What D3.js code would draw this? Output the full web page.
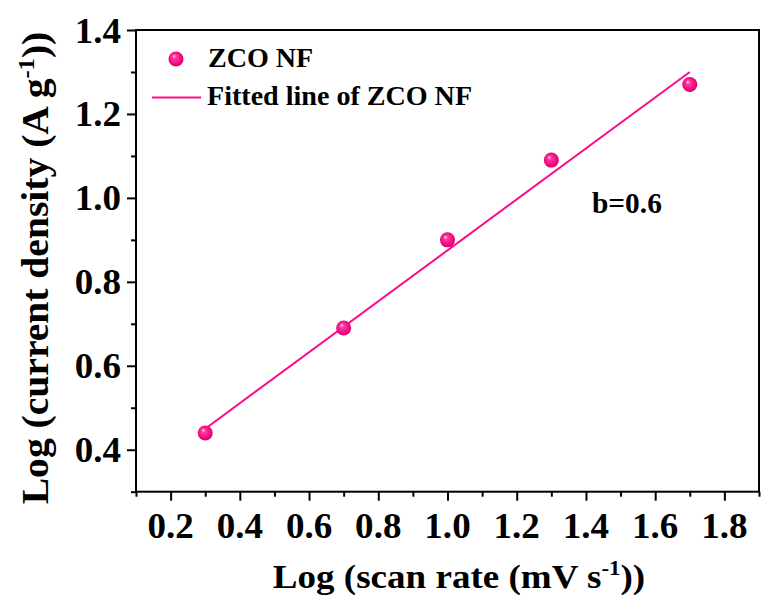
<!DOCTYPE html>
<html>
<head>
<meta charset="utf-8">
<script src="https://cdn.jsdelivr.net/npm/d3@7"></script>
<style>
body { margin: 0; background: #fff; }
text { font-family: "Liberation Serif", "Times New Roman", serif; font-weight: bold; fill: #000; }
</style>
</head>
<body>
<script>
// log of scan rate vs log of current density
var scanLog = [0.3, 0.7, 1.0, 1.3, 1.7];
var currentLog = [0.44, 0.69, 0.90, 1.09, 1.27];
// fitted line end points
var fitX = [0.3, 1.7];
var fitY = [0.45, 1.30];

var xTicks = [0.2, 0.4, 0.6, 0.8, 1.0, 1.2, 1.4, 1.6, 1.8];
var xMinor = [0.1, 0.3, 0.5, 0.7, 0.9, 1.1, 1.3, 1.5, 1.7, 1.9];
var yTicks = [0.4, 0.6, 0.8, 1.0, 1.2, 1.4];
var yMinor = [0.3, 0.5, 0.7, 0.9, 1.1, 1.3];

var seriesName = 'ZCO NF';
var fitName = 'Fitted line of ZCO NF';
var slopeLabel = 'b=0.6';

var width = 761, height = 599;
var plotL = 136, plotR = 759, plotT = 30, plotB = 491.7;
var pink = '#ff0a88';

var svg = d3.select('body').append('svg')
	.attr('width', width).attr('height', height);

var defs = svg.append('defs');
var grad = defs.append('radialGradient').attr('id', 'ball')
	.attr('cx', '50%').attr('cy', '50%').attr('r', '55%')
	.attr('fx', '35%').attr('fy', '30%');
grad.append('stop').attr('offset', '0%').attr('stop-color', '#ffe0f0');
grad.append('stop').attr('offset', '25%').attr('stop-color', '#ff3a9e');
grad.append('stop').attr('offset', '75%').attr('stop-color', '#f2067f');
grad.append('stop').attr('offset', '100%').attr('stop-color', '#c4005c');

var x = d3.scaleLinear().domain([0.1, 1.9]).range([plotL, plotR]);
var y = d3.scaleLinear().domain([0.3, 1.4]).range([plotB, plotT]);

// ticks, outward, no labels (labels drawn below)
function tickGroup(axis, tr) {
	var g = svg.append('g').attr('transform', tr).call(axis);
	g.select('.domain').remove();
	g.selectAll('line').attr('stroke', '#000').attr('stroke-width', 2);
	g.selectAll('text').remove();
	return g;
}
tickGroup(d3.axisBottom(x).tickValues(xTicks).tickSize(9).tickFormat(''), 'translate(0,' + plotB + ')');
tickGroup(d3.axisBottom(x).tickValues(xMinor).tickSize(5).tickFormat(''), 'translate(0,' + plotB + ')');
tickGroup(d3.axisLeft(y).tickValues(yTicks).tickSize(9).tickFormat(''), 'translate(' + plotL + ',0)');
tickGroup(d3.axisLeft(y).tickValues(yMinor).tickSize(5).tickFormat(''), 'translate(' + plotL + ',0)');

svg.append('rect')
	.attr('x', plotL).attr('y', plotT)
	.attr('width', plotR - plotL).attr('height', plotB - plotT)
	.attr('fill', 'none').attr('stroke', '#000').attr('stroke-width', 2);

// tick labels
svg.selectAll('.xlab').data(xTicks).enter().append('text')
	.attr('class', 'xlab')
	.attr('text-anchor', 'middle')
	.attr('font-size', 36)
	.attr('transform', function (d) { return 'translate(' + x(d) + ',538) scale(1.03,1)'; })
	.text(function (d) { return d.toFixed(1); });

svg.selectAll('.ylab').data(yTicks).enter().append('text')
	.attr('class', 'ylab')
	.attr('text-anchor', 'end')
	.attr('font-size', 36)
	.attr('transform', function (d) { return 'translate(121,' + (y(d) + 12.5) + ') scale(1.03,1)'; })
	.text(function (d) { return d.toFixed(1); });

// axis titles
var xt = svg.append('text')
	.attr('text-anchor', 'middle')
	.attr('font-size', 34)
	.attr('transform', 'translate(459,588) scale(1.09,1)');
xt.append('tspan').text('Log (scan rate (mV s');
xt.append('tspan').attr('font-size', 21).attr('dy', -13).text('-1');
xt.append('tspan').attr('dy', 13).text('))');

var yt = svg.append('text')
	.attr('text-anchor', 'middle')
	.attr('font-size', 37)
	.attr('transform', 'translate(48,268) rotate(-90) scale(1.07,1)');
yt.append('tspan').text('Log (current density (A g');
yt.append('tspan').attr('font-size', 23).attr('dy', -14).text('-1');
yt.append('tspan').attr('dy', 14).text('))');

// fitted line
var line = d3.line()
	.x(function (d) { return x(d[0]); })
	.y(function (d) { return y(d[1]); });
svg.append('path')
	.datum(d3.zip(fitX, fitY))
	.attr('d', line)
	.attr('fill', 'none')
	.attr('stroke', pink)
	.attr('stroke-width', 2);

// data points
svg.selectAll('.pt').data(d3.zip(scanLog, currentLog)).enter().append('circle')
	.attr('class', 'pt')
	.attr('cx', function (d) { return x(d[0]); })
	.attr('cy', function (d) { return y(d[1]); })
	.attr('r', 7.5)
	.attr('fill', 'url(#ball)');

// legend
svg.append('circle').attr('cx', 176).attr('cy', 59).attr('r', 7.5).attr('fill', 'url(#ball)');
svg.append('text').attr('font-size', 27)
	.attr('transform', 'translate(208,67) scale(1.04,1)')
	.text(seriesName);
svg.append('line')
	.attr('x1', 152).attr('x2', 201).attr('y1', 97.5).attr('y2', 97.5)
	.attr('stroke', pink).attr('stroke-width', 2);
svg.append('text').attr('font-size', 27)
	.attr('transform', 'translate(207,105) scale(1.04,1)')
	.text(fitName);

svg.append('text').attr('font-size', 30)
	.attr('transform', 'translate(592,213) scale(0.98,1)')
	.text(slopeLabel);
</script>
</body>
</html>
